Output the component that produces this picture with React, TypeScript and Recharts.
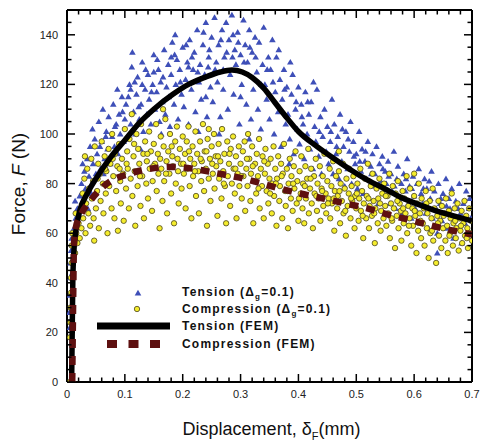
import React from "react";
import { ComposedChart, Scatter, Line, XAxis, YAxis } from "recharts";

const FONT = '"Liberation Sans", Arial, sans-serif';

// axis ticks (majors get labels, the rest are minor ticks)
const xTicks = [
  0, 0.02, 0.04, 0.06, 0.08, 0.1, 0.12, 0.14, 0.16, 0.18, 0.2, 0.22, 0.24, 0.26, 0.28, 0.3,
  0.32, 0.34, 0.36, 0.38, 0.4, 0.42, 0.44, 0.46, 0.48, 0.5, 0.52, 0.54, 0.56, 0.58, 0.6,
  0.62, 0.64, 0.66, 0.68, 0.7,
];
const xLabels = [0, 0.1, 0.2, 0.3, 0.4, 0.5, 0.6, 0.7];
const yTicks = [
  0, 5, 10, 15, 20, 25, 30, 35, 40, 45, 50, 55, 60, 65, 70, 75, 80, 85, 90, 95, 100, 105,
  110, 115, 120, 125, 130, 135, 140, 145, 150,
];
const yLabels = [0, 20, 40, 60, 80, 100, 120, 140];

// Tension (Δg=0.1) scatter
const tensionPts: [number, number][] = [
  [0.004, 28], [0.005, 35], [0.006, 42], [0.006, 48], [0.007, 53], [0.008, 58], [0.009, 44], [0.005, 22],
  [0.012, 62], [0.015, 66], [0.018, 70], [0.014, 73], [0.02, 68], [0.017, 64],
  [0.022, 75], [0.025, 80], [0.028, 72], [0.03, 85], [0.032, 78], [0.035, 90], [0.038, 83], [0.04, 95],
  [0.042, 76], [0.045, 88], [0.048, 98], [0.05, 84], [0.027, 88], [0.036, 70], [0.044, 102],
  [0.052, 92], [0.055, 105], [0.058, 86], [0.06, 97], [0.062, 110], [0.065, 90], [0.068, 101], [0.07, 94],
  [0.072, 107], [0.075, 88], [0.078, 99], [0.08, 112], [0.082, 95], [0.085, 104], [0.088, 92], [0.09, 108],
  [0.092, 100], [0.095, 115], [0.098, 97], [0.1, 106], [0.063, 84], [0.087, 118],
  [0.102, 112], [0.105, 98], [0.108, 120], [0.11, 104], [0.112, 127], [0.115, 109], [0.118, 100], [0.12, 116],
  [0.122, 123], [0.125, 106], [0.128, 112], [0.13, 129], [0.132, 101], [0.135, 118], [0.138, 108], [0.14, 124],
  [0.142, 114], [0.145, 104], [0.148, 120], [0.15, 132], [0.113, 133], [0.127, 94],
  [0.152, 110], [0.155, 117], [0.158, 126], [0.16, 105], [0.162, 121], [0.165, 113], [0.168, 134], [0.17, 108],
  [0.172, 119], [0.175, 128], [0.178, 103], [0.18, 124], [0.182, 137], [0.185, 112], [0.188, 120], [0.19, 130],
  [0.192, 106], [0.195, 126], [0.198, 116], [0.2, 135], [0.163, 100], [0.187, 140],
  [0.202, 111], [0.205, 122], [0.208, 129], [0.21, 104], [0.212, 138], [0.215, 118], [0.218, 126], [0.22, 133],
  [0.222, 109], [0.225, 142], [0.228, 121], [0.23, 128], [0.232, 114], [0.235, 136], [0.238, 124], [0.24, 145],
  [0.242, 107], [0.245, 131], [0.248, 119], [0.25, 139], [0.227, 101], [0.244, 127],
  [0.252, 113], [0.255, 147], [0.258, 129], [0.26, 121], [0.262, 136], [0.265, 107], [0.268, 142], [0.27, 118],
  [0.272, 131], [0.275, 145], [0.278, 110], [0.28, 138], [0.282, 124], [0.285, 148], [0.288, 116], [0.29, 134],
  [0.292, 128], [0.295, 141], [0.298, 104], [0.3, 132], [0.263, 100], [0.287, 140],
  [0.302, 120], [0.305, 146], [0.308, 136], [0.31, 112], [0.312, 129], [0.315, 142], [0.318, 106], [0.32, 133],
  [0.322, 118], [0.325, 139], [0.328, 125], [0.33, 110], [0.332, 137], [0.335, 102], [0.338, 128], [0.34, 143],
  [0.342, 120], [0.345, 114], [0.348, 131], [0.35, 106], [0.336, 120], [0.315, 98],
  [0.352, 126], [0.355, 138], [0.358, 100], [0.36, 117], [0.362, 131], [0.365, 109], [0.368, 122], [0.37, 95],
  [0.372, 114], [0.375, 126], [0.378, 104], [0.38, 119], [0.382, 108], [0.385, 98], [0.388, 116], [0.39, 124],
  [0.392, 92], [0.395, 110], [0.398, 102], [0.4, 119], [0.366, 134], [0.384, 88],
  [0.402, 96], [0.405, 112], [0.408, 104], [0.41, 90], [0.412, 117], [0.415, 100], [0.418, 108], [0.42, 94],
  [0.422, 113], [0.425, 86], [0.428, 103], [0.43, 97], [0.432, 118], [0.435, 91], [0.438, 107], [0.44, 84],
  [0.442, 99], [0.445, 110], [0.448, 93], [0.45, 103], [0.426, 121],
  [0.452, 88], [0.455, 97], [0.458, 114], [0.46, 84], [0.462, 104], [0.465, 92], [0.468, 99], [0.47, 82],
  [0.472, 108], [0.475, 89], [0.478, 95], [0.48, 79], [0.482, 101], [0.485, 86], [0.488, 93], [0.49, 105],
  [0.492, 80], [0.495, 97], [0.498, 88], [0.5, 92],
  [0.502, 78], [0.505, 101], [0.508, 85], [0.51, 94], [0.512, 76], [0.515, 89], [0.518, 82], [0.52, 97],
  [0.522, 74], [0.525, 87], [0.528, 92], [0.53, 79], [0.532, 84], [0.535, 95], [0.538, 72], [0.54, 88],
  [0.542, 81], [0.545, 91], [0.548, 76], [0.55, 85],
  [0.552, 80], [0.555, 89], [0.558, 72], [0.56, 84], [0.562, 77], [0.565, 93], [0.568, 70], [0.57, 82],
  [0.572, 87], [0.575, 74], [0.578, 80], [0.58, 68], [0.582, 84], [0.585, 77], [0.588, 90], [0.59, 72],
  [0.592, 79], [0.595, 66], [0.598, 83], [0.6, 75],
  [0.602, 70], [0.605, 80], [0.608, 86], [0.61, 64], [0.612, 76], [0.615, 72], [0.618, 82], [0.62, 68],
  [0.622, 78], [0.625, 62], [0.628, 74], [0.63, 85], [0.632, 66], [0.635, 77], [0.638, 70], [0.64, 60],
  [0.642, 80], [0.645, 72], [0.648, 65], [0.65, 76],
  [0.652, 68], [0.655, 82], [0.658, 62], [0.66, 74], [0.662, 70], [0.665, 78], [0.668, 58], [0.67, 66],
  [0.672, 73], [0.675, 62], [0.678, 80], [0.68, 68], [0.682, 56], [0.685, 72], [0.688, 64], [0.69, 77],
  [0.692, 60], [0.695, 70], [0.698, 66], [0.64, 52],
  // denser core of the cloud
  [0.057, 95], [0.067, 99], [0.083, 103], [0.096, 109], [0.106, 115], [0.117, 121], [0.124, 111], [0.136, 126],
  [0.146, 117], [0.156, 130], [0.166, 123], [0.176, 115], [0.186, 132], [0.196, 121], [0.206, 136], [0.216, 131],
  [0.226, 125], [0.236, 141], [0.246, 134], [0.256, 126], [0.266, 138], [0.276, 133], [0.286, 131], [0.296, 137],
  [0.306, 129], [0.316, 135], [0.326, 131], [0.346, 126], [0.356, 121], [0.376, 118], [0.386, 129], [0.396, 113],
  [0.406, 107], [0.416, 113], [0.436, 101], [0.456, 101], [0.466, 95], [0.476, 102], [0.486, 98], [0.496, 91],
  [0.506, 89], [0.516, 93], [0.526, 84], [0.546, 86], [0.556, 83], [0.566, 79], [0.586, 82], [0.596, 78],
  [0.616, 78], [0.626, 81], [0.646, 74], [0.656, 71], [0.676, 70], [0.696, 74], [0.3, 115], [0.27, 126],
  [0.24, 115], [0.21, 127], [0.18, 131], [0.15, 125], [0.13, 120], [0.11, 118],
];

// Compression (Δg=0.1) scatter
const compressionPts: [number, number][] = [
  [0, 0], [0.005, 18], [0.006, 24], [0.006, 30], [0.007, 36], [0.007, 42], [0.008, 48], [0.008, 55],
  [0.009, 60], [0.012, 58], [0.014, 52], [0.016, 60], [0.018, 56], [0.02, 64], [0.015, 68],
  [0.022, 58], [0.024, 70], [0.025, 62], [0.027, 76], [0.028, 66], [0.03, 82], [0.032, 60], [0.033, 72],
  [0.035, 86], [0.037, 68], [0.038, 78], [0.04, 63], [0.042, 90], [0.043, 74], [0.045, 81], [0.047, 57],
  [0.048, 95], [0.05, 70], [0.031, 91], [0.046, 66],
  [0.052, 77], [0.054, 88], [0.055, 62], [0.057, 84], [0.058, 73], [0.06, 97], [0.062, 80], [0.063, 68],
  [0.065, 91], [0.067, 76], [0.068, 85], [0.07, 60], [0.072, 94], [0.073, 79], [0.075, 88], [0.077, 70],
  [0.078, 100], [0.08, 83], [0.082, 66], [0.083, 92], [0.085, 77], [0.087, 87], [0.088, 61], [0.09, 96],
  [0.092, 81], [0.093, 72], [0.095, 90], [0.097, 84], [0.098, 65], [0.1, 102],
  [0.102, 78], [0.104, 93], [0.105, 86], [0.107, 70], [0.108, 98], [0.11, 82], [0.112, 108], [0.113, 75],
  [0.115, 91], [0.117, 85], [0.118, 63], [0.12, 100], [0.122, 79], [0.123, 94], [0.125, 88], [0.127, 71],
  [0.128, 104], [0.13, 83], [0.132, 92], [0.133, 66], [0.135, 97], [0.137, 80], [0.138, 89], [0.14, 74],
  [0.142, 101], [0.143, 86], [0.145, 93], [0.147, 69], [0.148, 81], [0.15, 96],
  [0.152, 88], [0.154, 104], [0.155, 77], [0.157, 92], [0.158, 84], [0.16, 62], [0.162, 99], [0.163, 86],
  [0.165, 73], [0.167, 95], [0.168, 81], [0.17, 106], [0.172, 89], [0.173, 68], [0.175, 93], [0.177, 84],
  [0.178, 100], [0.18, 76], [0.182, 91], [0.183, 87], [0.185, 64], [0.187, 97], [0.188, 80], [0.19, 103],
  [0.192, 85], [0.193, 72], [0.195, 94], [0.197, 88], [0.198, 78], [0.2, 99],
  [0.202, 84], [0.204, 92], [0.205, 70], [0.207, 97], [0.208, 86], [0.21, 103], [0.212, 79], [0.213, 90],
  [0.215, 66], [0.217, 95], [0.218, 83], [0.22, 88], [0.222, 101], [0.223, 75], [0.225, 92], [0.227, 85],
  [0.228, 68], [0.23, 97], [0.232, 81], [0.233, 89], [0.235, 104], [0.237, 77], [0.238, 93], [0.24, 86],
  [0.242, 63], [0.243, 98], [0.245, 82], [0.247, 90], [0.248, 73], [0.25, 95],
  [0.252, 84], [0.254, 100], [0.255, 78], [0.257, 91], [0.258, 87], [0.26, 67], [0.262, 96], [0.263, 82],
  [0.265, 89], [0.267, 74], [0.268, 102], [0.27, 85], [0.272, 92], [0.273, 79], [0.275, 64], [0.277, 97],
  [0.278, 83], [0.28, 88], [0.282, 71], [0.283, 94], [0.285, 80], [0.287, 99], [0.288, 86], [0.29, 76],
  [0.292, 91], [0.293, 66], [0.295, 84], [0.297, 95], [0.298, 79], [0.3, 88],
  [0.302, 74], [0.304, 93], [0.305, 83], [0.307, 97], [0.308, 69], [0.31, 86], [0.312, 79], [0.313, 100],
  [0.315, 90], [0.317, 73], [0.318, 84], [0.32, 95], [0.322, 64], [0.323, 81], [0.325, 88], [0.327, 76],
  [0.328, 92], [0.33, 83], [0.332, 98], [0.333, 70], [0.335, 86], [0.337, 79], [0.338, 91], [0.34, 66],
  [0.342, 84], [0.343, 94], [0.345, 77], [0.347, 88], [0.348, 72], [0.35, 82],
  [0.352, 90], [0.354, 68], [0.355, 80], [0.357, 95], [0.358, 75], [0.36, 86], [0.362, 63], [0.363, 82],
  [0.365, 91], [0.367, 73], [0.368, 79], [0.37, 88], [0.372, 66], [0.373, 84], [0.375, 96], [0.377, 77],
  [0.378, 71], [0.38, 86], [0.382, 62], [0.383, 80], [0.385, 90], [0.387, 74], [0.388, 83], [0.39, 69],
  [0.392, 87], [0.393, 78], [0.395, 93], [0.397, 72], [0.398, 81], [0.4, 65],
  [0.402, 85], [0.404, 76], [0.405, 91], [0.407, 70], [0.408, 80], [0.41, 64], [0.412, 87], [0.413, 74],
  [0.415, 82], [0.417, 94], [0.418, 68], [0.42, 78], [0.422, 86], [0.423, 72], [0.425, 62], [0.427, 83],
  [0.428, 76], [0.43, 90], [0.432, 69], [0.433, 80], [0.435, 74], [0.437, 87], [0.438, 65], [0.44, 78],
  [0.442, 83], [0.443, 71], [0.445, 92], [0.447, 76], [0.448, 68], [0.45, 81],
  [0.452, 74], [0.454, 86], [0.455, 66], [0.457, 79], [0.458, 72], [0.46, 89], [0.462, 61], [0.463, 77],
  [0.465, 83], [0.467, 70], [0.468, 75], [0.47, 85], [0.472, 64], [0.473, 80], [0.475, 73], [0.477, 88],
  [0.478, 68], [0.48, 78], [0.482, 59], [0.483, 82], [0.485, 71], [0.487, 76], [0.488, 86], [0.49, 66],
  [0.492, 79], [0.493, 73], [0.495, 83], [0.497, 62], [0.498, 75], [0.5, 70],
  [0.502, 80], [0.504, 65], [0.505, 74], [0.507, 86], [0.508, 69], [0.51, 77], [0.512, 58], [0.513, 72],
  [0.515, 82], [0.517, 66], [0.518, 75], [0.52, 88], [0.522, 62], [0.523, 71], [0.525, 79], [0.527, 67],
  [0.528, 84], [0.53, 73], [0.532, 56], [0.533, 70], [0.535, 78], [0.537, 64], [0.538, 74], [0.54, 82],
  [0.542, 61], [0.543, 69], [0.545, 76], [0.547, 66], [0.548, 80], [0.55, 71],
  [0.552, 63], [0.554, 75], [0.555, 68], [0.557, 84], [0.558, 58], [0.56, 72], [0.562, 65], [0.563, 79],
  [0.565, 70], [0.567, 54], [0.568, 76], [0.57, 67], [0.572, 81], [0.573, 62], [0.575, 72], [0.577, 69],
  [0.578, 57], [0.58, 77], [0.582, 64], [0.583, 74], [0.585, 68], [0.587, 83], [0.588, 60], [0.59, 71],
  [0.592, 66], [0.593, 78], [0.595, 55], [0.597, 70], [0.598, 63], [0.6, 75],
  [0.602, 67], [0.604, 52], [0.605, 72], [0.607, 61], [0.608, 80], [0.61, 68], [0.612, 58], [0.613, 74],
  [0.615, 64], [0.617, 70], [0.618, 55], [0.62, 77], [0.622, 62], [0.623, 68], [0.625, 50], [0.627, 73],
  [0.628, 60], [0.63, 66], [0.632, 78], [0.633, 57], [0.635, 70], [0.637, 63], [0.638, 48], [0.64, 67],
  [0.642, 73], [0.643, 59], [0.645, 65], [0.647, 54], [0.648, 71], [0.65, 62],
  [0.652, 68], [0.654, 57], [0.655, 74], [0.657, 63], [0.658, 52], [0.66, 69], [0.662, 60], [0.663, 66],
  [0.665, 76], [0.667, 55], [0.668, 64], [0.67, 70], [0.672, 58], [0.673, 62], [0.675, 72], [0.677, 53],
  [0.678, 66], [0.68, 61], [0.682, 69], [0.683, 56], [0.685, 64], [0.687, 73], [0.688, 59], [0.69, 67],
  [0.692, 62], [0.693, 54], [0.695, 70], [0.697, 60], [0.698, 65], [0.7, 57],
  // denser core around the FEM curve
  [0.053, 82], [0.066, 86], [0.079, 90], [0.091, 86], [0.103, 88], [0.116, 96], [0.126, 83], [0.139, 92],
  [0.149, 87], [0.161, 90], [0.171, 84], [0.181, 95], [0.191, 90], [0.201, 88], [0.211, 93], [0.221, 85],
  [0.231, 90], [0.241, 93], [0.251, 88], [0.261, 91], [0.271, 80], [0.281, 92], [0.291, 86], [0.301, 83],
  [0.311, 90], [0.321, 87], [0.331, 78], [0.341, 89], [0.351, 76], [0.361, 80], [0.371, 83], [0.381, 77],
  [0.391, 80], [0.401, 74], [0.411, 79], [0.421, 82], [0.431, 75], [0.441, 77], [0.451, 72], [0.461, 74],
  [0.471, 77], [0.481, 69], [0.491, 74], [0.501, 76], [0.511, 67], [0.521, 74], [0.531, 68], [0.541, 72],
  [0.551, 75], [0.561, 66], [0.571, 73], [0.581, 70], [0.591, 63], [0.601, 69], [0.611, 65], [0.621, 72],
  [0.631, 61], [0.641, 64], [0.651, 67], [0.661, 59], [0.671, 65], [0.681, 63], [0.691, 58], [0.166, 110],
  [0.245, 102], [0.47, 93], [0.6, 84],
];

// FEM curves
const tensionFem: [number, number][] = [
  [0.008, 0], [0.009, 20], [0.01, 40], [0.012, 53], [0.016, 62], [0.022, 69], [0.035, 76], [0.05, 82],
  [0.075, 90.5], [0.1, 97.5], [0.125, 104.5], [0.15, 110], [0.183, 116], [0.21, 120], [0.242, 123.2],
  [0.265, 125], [0.285, 125.8], [0.303, 125], [0.32, 122.8], [0.34, 118.5], [0.36, 112.5], [0.38, 106.5],
  [0.4, 101], [0.43, 95.3], [0.46, 90.3], [0.49, 85.6], [0.519, 81.5], [0.55, 77.8], [0.576, 74.6],
  [0.605, 71.8], [0.633, 69.4], [0.665, 67.2], [0.7, 65],
];
const compressionFem: [number, number][] = [
  [0.009, 0], [0.01, 20], [0.011, 40], [0.012, 55], [0.015, 62], [0.025, 68], [0.04, 73], [0.069, 80],
  [0.109, 84], [0.143, 86], [0.183, 86.7], [0.218, 86], [0.256, 84.3], [0.294, 82.6], [0.334, 80.2],
  [0.368, 78], [0.403, 76], [0.443, 74], [0.481, 72], [0.519, 70], [0.555, 67.5], [0.593, 65.3],
  [0.631, 63], [0.668, 61], [0.7, 59.5],
];

const toXY = (pts: [number, number][]) => pts.map(([x, y]) => ({ x, y }));

const isMajor = (list: number[], v: number) => list.some((m) => Math.abs(m - v) < 1e-6);
const fmtX = (v: number) => (v === 0 ? "0" : v.toFixed(1));

const MAJOR = 8;
const MINOR = 4.5;

const BottomTick = (p: any) => {
  const v = p.payload.value;
  const major = isMajor(xLabels, v);
  return (
    <g>
      <line x1={p.x} x2={p.x} y1={p.y} y2={p.y - (major ? MAJOR : MINOR)} stroke="#000" strokeWidth={1.5} />
      {major && (
        <text x={p.x} y={p.y + 16} textAnchor="middle" fontSize={11} fontFamily={FONT} fill="#222">
          {fmtX(v)}
        </text>
      )}
    </g>
  );
};

const TopTick = (p: any) => {
  const major = isMajor(xLabels, p.payload.value);
  return <line x1={p.x} x2={p.x} y1={p.y} y2={p.y + (major ? MAJOR : MINOR)} stroke="#000" strokeWidth={1.5} />;
};

const LeftTick = (p: any) => {
  const v = p.payload.value;
  const major = isMajor(yLabels, v);
  return (
    <g>
      <line x1={p.x} x2={p.x + (major ? MAJOR : MINOR)} y1={p.y} y2={p.y} stroke="#000" strokeWidth={1.5} />
      {major && (
        <text x={p.x - 9} y={p.y + 4} textAnchor="end" fontSize={11} fontFamily={FONT} fill="#222">
          {v}
        </text>
      )}
    </g>
  );
};

const RightTick = (p: any) => {
  const major = isMajor(yLabels, p.payload.value);
  return <line x1={p.x} x2={p.x - (major ? MAJOR : MINOR)} y1={p.y} y2={p.y} stroke="#000" strokeWidth={1.5} />;
};

const TriangleDot = (p: any) => (
  <polygon
    points={`${p.cx},${p.cy - 3.2} ${p.cx - 3.3},${p.cy + 2.5} ${p.cx + 3.3},${p.cy + 2.5}`}
    fill="#3e4fb8"
  />
);

const YellowDot = (p: any) => (
  <circle cx={p.cx} cy={p.cy} r={2.7} fill="#f4ec2c" stroke="#4a4420" strokeWidth={0.8} />
);

const XTitle = (p: any) => {
  const vb = p.viewBox;
  return (
    <text x={vb.x + vb.width / 2 + 2} y={435} textAnchor="middle" fontSize={18} fontFamily={FONT} fill="#111">
      <tspan>Displacement, δ</tspan>
      <tspan fontSize={11} dy={5}>F</tspan>
      <tspan dy={-5}>(mm)</tspan>
    </text>
  );
};

const YTitle = () => (
  <text
    x={25}
    y={184}
    transform="rotate(-90 25 184)"
    textAnchor="middle"
    fontSize={19}
    fontFamily={FONT}
    fill="#111"
  >
    <tspan>Force, </tspan>
    <tspan fontStyle="italic">F</tspan>
    <tspan> (N)</tspan>
  </text>
);

const legendText = { fontSize: 12, fontWeight: 700, fontFamily: FONT, fill: "#111", letterSpacing: 1.2 };

const LegendBox = () => (
  <svg
    width={250}
    height={75}
    style={{ position: "absolute", left: 90, top: 280 }}
  >
    <polygon points="48,9.8 44.7,15.5 51.3,15.5" fill="#3e4fb8" />
    <circle cx={47} cy={29} r={2.7} fill="#f4ec2c" stroke="#4a4420" strokeWidth={0.8} />
    <line x1={7} x2={80} y1={46} y2={46} stroke="#000" strokeWidth={7} />
    <line x1={17} x2={72} y1={64} y2={64} stroke="#5e1010" strokeWidth={8} strokeDasharray="10 11.5" />
    <text x={92} y={16} {...legendText}>
      <tspan>Tension (Δ</tspan>
      <tspan fontSize={8} dy={3}>g</tspan>
      <tspan dy={-3}>=0.1)</tspan>
    </text>
    <text x={92} y={33} {...legendText}>
      <tspan>Compression (Δ</tspan>
      <tspan fontSize={8} dy={3}>g</tspan>
      <tspan dy={-3}>=0.1)</tspan>
    </text>
    <text x={92} y={50} {...legendText}>Tension (FEM)</text>
    <text x={92} y={68} {...legendText}>Compression (FEM)</text>
  </svg>
);

export default function App() {
  return (
    <div style={{ position: "absolute", left: 0, top: 0, width: 480, height: 443, background: "#fff" }}>
      <ComposedChart width={480} height={443} margin={{ top: 0, right: 0, bottom: 0, left: 0 }}>
        <XAxis
          xAxisId="x"
          dataKey="x"
          type="number"
          orientation="bottom"
          domain={[0, 0.7]}
          allowDataOverflow
          ticks={xTicks}
          interval={0}
          height={61}
          tickSize={0}
          tickMargin={0}
          tickLine={false}
          tick={BottomTick}
          axisLine={{ stroke: "#000", strokeWidth: 2 }}
          label={<XTitle />}
        />
        <XAxis
          xAxisId="xt"
          dataKey="x"
          type="number"
          orientation="top"
          domain={[0, 0.7]}
          allowDataOverflow
          ticks={xTicks}
          interval={0}
          height={10}
          tickSize={0}
          tickMargin={0}
          tickLine={false}
          tick={TopTick}
          axisLine={{ stroke: "#000", strokeWidth: 2 }}
        />
        <YAxis
          yAxisId="y"
          dataKey="y"
          type="number"
          orientation="left"
          domain={[0, 150]}
          allowDataOverflow
          ticks={yTicks}
          interval={0}
          width={67}
          tickSize={0}
          tickMargin={0}
          tickLine={false}
          tick={LeftTick}
          axisLine={{ stroke: "#000", strokeWidth: 2 }}
          label={<YTitle />}
        />
        <YAxis
          yAxisId="yr"
          dataKey="y"
          type="number"
          orientation="right"
          domain={[0, 150]}
          allowDataOverflow
          ticks={yTicks}
          interval={0}
          width={8}
          tickSize={0}
          tickMargin={0}
          tickLine={false}
          tick={RightTick}
          axisLine={{ stroke: "#000", strokeWidth: 2 }}
        />
        <Scatter
          name="Tension (Δg=0.1)"
          data={toXY(tensionPts)}
          xAxisId="x"
          yAxisId="y"
          shape={TriangleDot}
          isAnimationActive={false}
        />
        <Scatter
          name="Compression (Δg=0.1)"
          data={toXY(compressionPts)}
          xAxisId="x"
          yAxisId="y"
          shape={YellowDot}
          isAnimationActive={false}
        />
        <Line
          name="Tension (FEM)"
          data={toXY(tensionFem)}
          dataKey="y"
          xAxisId="x"
          yAxisId="y"
          type="monotone"
          stroke="#000"
          strokeWidth={5.5}
          dot={false}
          activeDot={false}
          isAnimationActive={false}
          zIndex={700}
        />
        <Line
          name="Compression (FEM)"
          data={toXY(compressionFem)}
          dataKey="y"
          xAxisId="x"
          yAxisId="y"
          type="monotone"
          stroke="#5e1010"
          strokeWidth={6.5}
          strokeDasharray="9 8"
          dot={false}
          activeDot={false}
          isAnimationActive={false}
          zIndex={710}
        />
      </ComposedChart>
      <LegendBox />
    </div>
  );
}
